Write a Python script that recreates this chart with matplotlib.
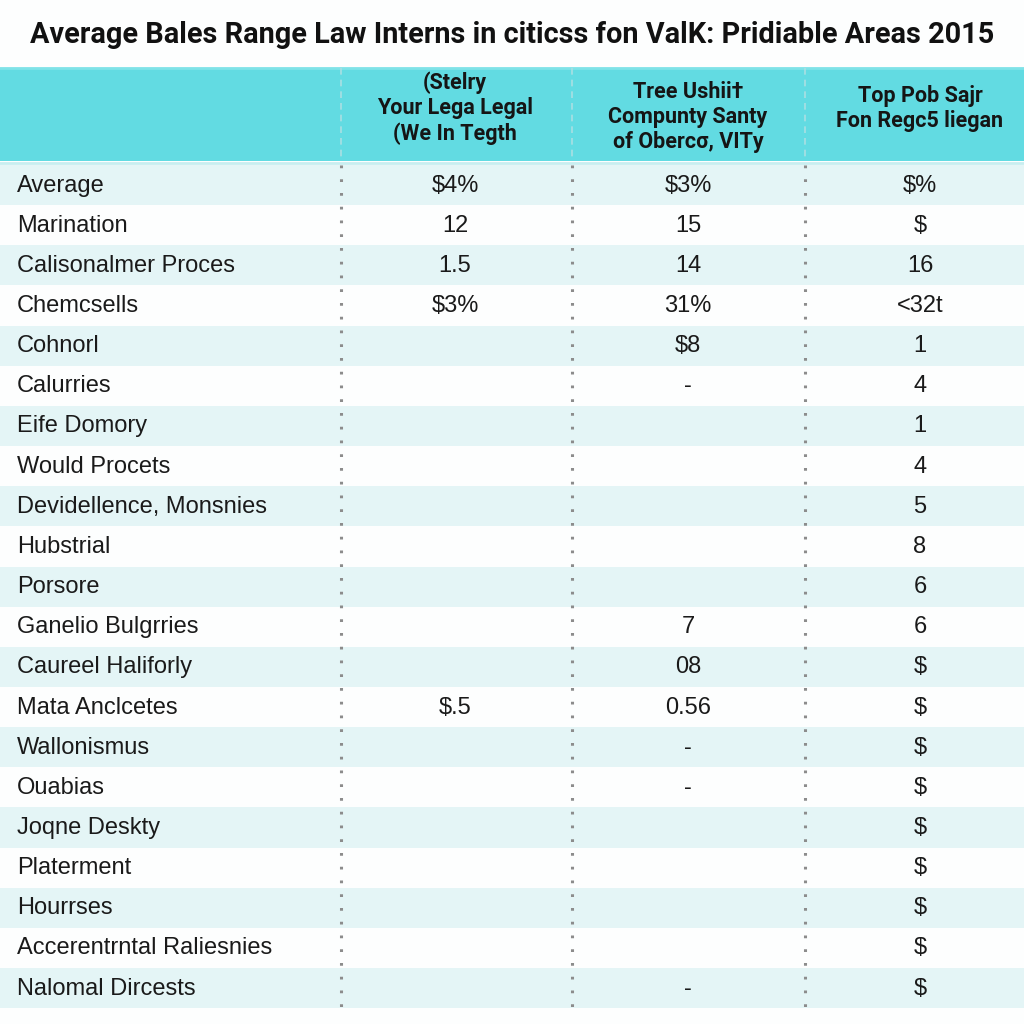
import matplotlib
matplotlib.use("Agg")
import matplotlib.pyplot as plt
from matplotlib.patches import Rectangle

title = "Average Bales Range Law Interns in citi\u0441ss fon ValK: Pridiable Areas 2015"
col_headers = [
    "(Stelry\nYour Lega Legal\n(We In Tegth",
    "Tree Ushii\u2020\nCompunty Santy\nof Oberc\u03c3, VITy",
    "Top Pob Sajr\nFon Regc5 liegan",
]
row_labels = [
    "Average", "Marination", "Calisonalmer Proces", "Chemcsells", "Cohnorl",
    "Calurries", "Eife Domory", "Would Procets", "Devidellence, Monsnies",
    "Hubstrial", "Porsore", "Ganelio Bulgrries", "Caureel Haliforly",
    "Mata Anclcetes", "Wallonismus", "Ouabias", "Joqne Deskty",
    "Platerment", "Hourrses", "Accerentrntal Raliesnies", "Nalomal Dircests",
]
col1 = ["$4%", "12", "1.5", "$3%", "", "", "", "", "", "", "", "", "", "$.5",
        "", "", "", "", "", "", ""]
col2 = ["$3%", "15", "14", "31%", "$8", "-", "", "", "", "", "", "7", "08",
        "0.56", "-", "-", "", "", "", "", "-"]
col3 = ["$%", "$", "16", "<32t", "1", "4", "1", "4", "5", "8", "6", "6", "$",
        "$", "$", "$", "$", "$", "$", "$", "$"]
columns = [col1, col2, col3]

plt.rcParams["font.family"] = ["Liberation Sans", "DejaVu Sans"]
fig = plt.figure(figsize=(10.24, 10.24), dpi=100)
ax = fig.add_axes([0, 0, 1, 1])
ax.set_xlim(0, 1024)
ax.set_ylim(1024, 0)
ax.axis("off")
fig.patch.set_facecolor("#fdfefe")

# layout (pixels)
head_top, head_bot = 68, 161
row_top, row_h = 165, 40.15
sep_x = [341, 572, 805]
col_cx = [455, 688, 920]
head_cy = [108, 117, 108.5]
n = len(row_labels)
table_bot = row_top + n * row_h

fig.text(0.5, 1 - 35 / 1024, title, ha="center", va="center",
         fontsize=20.8, fontweight="bold",
         family=["Roboto", "DejaVu Sans"], color="#111111")

# header band
ax.add_patch(Rectangle((0, head_top), 1024, head_bot - head_top,
                       facecolor="#62dbe2", edgecolor="none"))
ax.plot([0, 1024], [head_top, head_top], color="#7fe3e8", lw=2)
ax.plot([0, 1024], [head_bot + 2, head_bot + 2], color="#c8eef0", lw=2)

for cx, cy, h in zip(col_cx, head_cy, col_headers):
    ax.text(cx, cy, h, ha="center", va="center",
            fontsize=15.5, fontweight="bold", linespacing=1.2,
            family=["Roboto", "DejaVu Sans"], color="#151515")

# rows
for i, lab in enumerate(row_labels):
    y0 = row_top + i * row_h
    if i % 2 == 0:
        ax.add_patch(Rectangle((0, y0), 1024, row_h, facecolor="#e4f5f6",
                               edgecolor="none"))
    yc = y0 + row_h / 2 + 0.5
    ax.text(17, yc, lab, ha="left", va="center", fontsize=17, color="#1a1a1a")
    for cx, col in zip(col_cx, columns):
        if col[i]:
            ax.text(cx, yc, col[i], ha="center", va="center", fontsize=17,
                    color="#1a1a1a")

# separators
for x in sep_x:
    ax.plot([x, x], [head_top, head_bot], color="#a9dfe2", lw=1.2,
            ls=(0, (4, 3)))
    ax.plot([x, x], [head_bot + 4, table_bot], color="#8c8c8c", lw=2.2,
            ls=(0, (0.9, 3.6)), solid_capstyle="butt")

fig.savefig("out.png", dpi=100, facecolor=fig.get_facecolor())
